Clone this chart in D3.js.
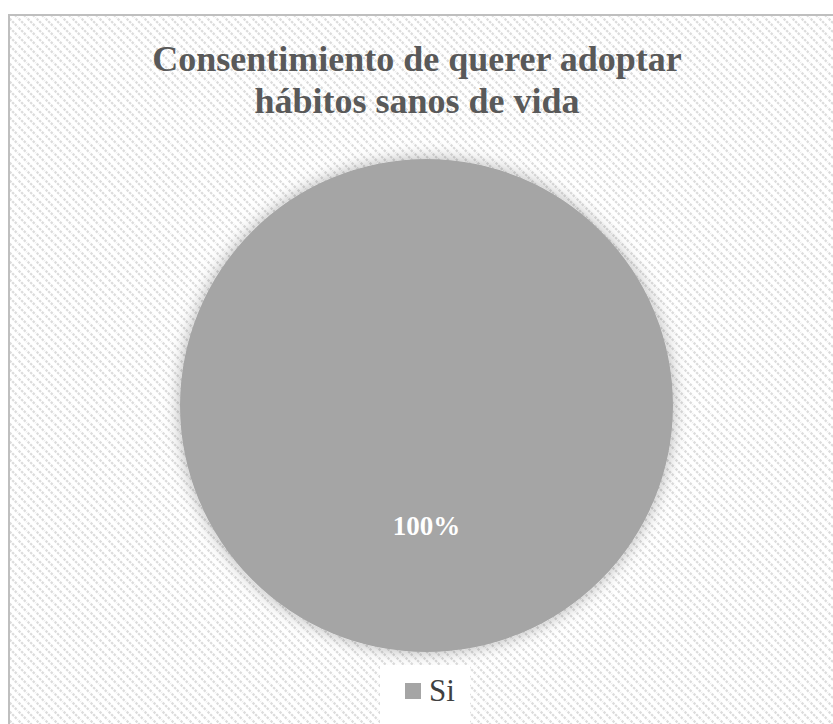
<!DOCTYPE html>
<html>
<head>
<meta charset="utf-8">
<script src="https://cdn.jsdelivr.net/npm/d3@7"></script>
<style>
  html, body { margin: 0; padding: 0; background: #ffffff; }
  svg { display: block; }
</style>
</head>
<body>
<svg id="chart" width="833" height="724"></svg>
<script>
// Survey answers and their shares
const categories = ["Si"];
const values = [100];
const valueLabels = ["100%"];
const titleLines = ["Consentimiento de querer adoptar", "hábitos sanos de vida"];

const W = 833, H = 724;
const svg = d3.select("#chart");
const defs = svg.append("defs");

// Light diagonal hatch used for the chart area fill
const pat = defs.append("pattern")
  .attr("id", "hatch")
  .attr("patternUnits", "userSpaceOnUse")
  .attr("width", 9).attr("height", 9);
pat.append("rect").attr("width", 9).attr("height", 9).attr("fill", "#ffffff");
pat.append("path")
  .attr("d", "M-2,-2 L11,11 M-2,7 L2,11 M7,-2 L11,2")
  .attr("stroke", "#dcdcdc")
  .attr("stroke-width", 2.2)
  .attr("stroke-dasharray", "2.5,1.2");

// Soft glow around the pie
const glow = defs.append("filter").attr("id", "glow")
  .attr("x", "-20%").attr("y", "-20%").attr("width", "140%").attr("height", "140%");
glow.append("feDropShadow")
  .attr("dx", 0).attr("dy", 0)
  .attr("stdDeviation", 8)
  .attr("flood-color", "#000000")
  .attr("flood-opacity", 0.3);

// Chart area with border (continues past the right and bottom edges)
svg.append("rect")
  .attr("x", 9).attr("y", 15)
  .attr("width", W + 20).attr("height", H + 20)
  .attr("fill", "url(#hatch)")
  .attr("stroke", "#bfbfbf")
  .attr("stroke-width", 2);

// Title
const title = svg.append("text")
  .attr("text-anchor", "middle")
  .attr("font-family", "'Liberation Serif', 'Times New Roman', serif")
  .attr("font-weight", "bold")
  .attr("font-size", 36)
  .attr("fill", "#595959");
titleLines.forEach((t, i) => {
  title.append("tspan").attr("x", 417).attr("y", 71 + i * 42).text(t);
});

// Pie
const cx = 426.5, cy = 405.5, r = 246.5;
const color = d3.scaleOrdinal().domain(categories).range(["#a5a5a5"]);
const pie = d3.pie().sort(null).value(d => d.value);
const data = categories.map((c, i) => ({ name: c, value: values[i], label: valueLabels[i] }));
const arcs = pie(data);
const arc = d3.arc().innerRadius(0).outerRadius(r);

const g = svg.append("g").attr("transform", `translate(${cx},${cy})`);
g.selectAll("path.slice")
  .data(arcs)
  .join("path")
  .attr("class", "slice")
  .attr("d", arc)
  .attr("fill", d => color(d.data.name))
  .attr("filter", "url(#glow)");

// Data label placed inside the slice (a full circle puts it below the centre)
const labelArc = d3.arc().innerRadius(r * 0.5).outerRadius(r * 0.5);
const isFull = d => (d.endAngle - d.startAngle) >= 2 * Math.PI - 1e-6;
g.selectAll("text.val")
  .data(arcs)
  .join("text")
  .attr("class", "val")
  .attr("x", d => isFull(d) ? 0 : labelArc.centroid(d)[0])
  .attr("y", d => isFull(d) ? r * 0.5 : labelArc.centroid(d)[1])
  .attr("text-anchor", "middle")
  .attr("dominant-baseline", "middle")
  .attr("font-family", "'Liberation Serif', 'Times New Roman', serif")
  .attr("font-weight", "bold")
  .attr("font-size", 27)
  .attr("fill", "#ffffff")
  .text(d => d.data.label);

// Legend
const legend = svg.append("g");
legend.append("rect")
  .attr("x", 380).attr("y", 665)
  .attr("width", 90).attr("height", 70)
  .attr("fill", "#ffffff");
const item = legend.selectAll("g.item")
  .data(categories)
  .join("g")
  .attr("class", "item");
item.append("rect")
  .attr("x", 405).attr("y", 683)
  .attr("width", 16).attr("height", 16)
  .attr("fill", d => color(d));
item.append("text")
  .attr("x", 429).attr("y", 701)
  .attr("font-family", "'Liberation Serif', 'Times New Roman', serif")
  .attr("font-size", 31)
  .attr("fill", "#404040")
  .text(d => d);
</script>
</body>
</html>
